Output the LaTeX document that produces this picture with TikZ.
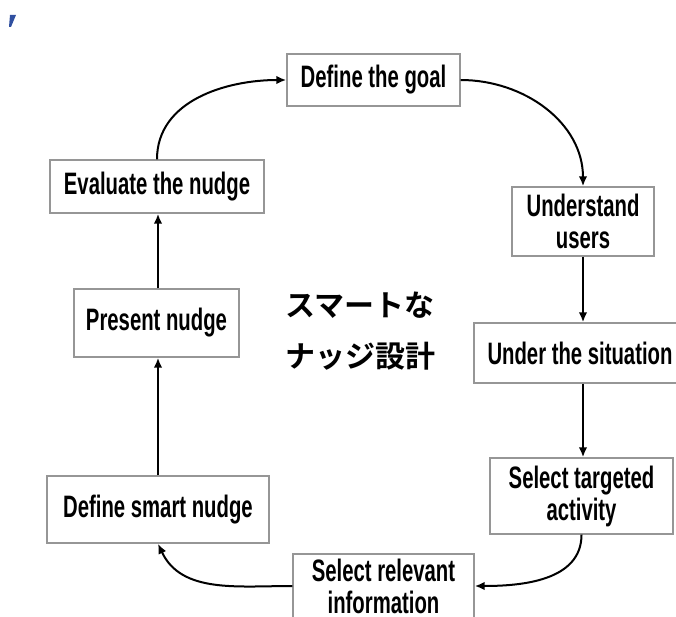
\documentclass[tikz,border=0pt]{standalone}
\usepackage{fontspec}
\usetikzlibrary{arrows.meta}
\newfontfamily\boxfont{Liberation Sans Bold}[FakeStretch=0.655]
\newfontfamily\cjkfont{Noto Sans CJK JP Bold}
\definecolor{boxgray}{RGB}{150,150,150}
\definecolor{markblue}{RGB}{48,80,160}
\tikzset{
  stepbox/.style={draw=boxgray, line width=1.4pt, fill=white, inner sep=0pt,
    align=center, font=\boxfont\fontsize{31}{32}\selectfont},
  flow/.style={line width=2pt, -{Latex[length=10pt,width=8.5pt]}},
}
\begin{document}
\begin{tikzpicture}[x=1pt, y=-1pt]
  \useasboundingbox (0,0) rectangle (676,617);
  % small mark in the corner
  \fill[markblue] (10,15) -- (16,15) -- (11,27) -- (9,27) -- cycle;

  % the steps of the cycle
  \node[stepbox, minimum width=173pt, minimum height=52pt] (goal) at (373.5,80) {Define the goal};
  \node[stepbox, minimum width=142pt, minimum height=69pt] (users) at (583,221.5) {Understand\\users};
  \node[stepbox, minimum width=212pt, minimum height=60pt] (situation) at (580,353) {Under the situation};
  \node[stepbox, minimum width=183pt, minimum height=76pt] (activity) at (581.5,496) {Select targeted\\activity};
  \node[stepbox, minimum width=181pt, minimum height=64pt] (info) at (383.5,586) {Select relevant\\information};
  \node[stepbox, minimum width=222pt, minimum height=67pt] (smart) at (158,509.5) {Define smart nudge};
  \node[stepbox, minimum width=165pt, minimum height=68pt] (present) at (156.5,323) {Present nudge};
  \node[stepbox, minimum width=214pt, minimum height=53pt] (evaluate) at (157,186.5) {Evaluate the nudge};

  % title in the middle
  \node[align=left, inner sep=0pt, font=\cjkfont\fontsize{30}{51}\selectfont] (title) at (360,331) {スマートな\\ナッジ設計};

  % connectors
  \draw[flow] (evaluate.north) to[out=90, in=180] (goal.west);
  \draw[flow] (goal.east) to[out=0, in=90] (users.north);
  \draw[flow] (users.south) -- (users.south |- situation.north);
  \draw[flow] (users.south |- situation.south) -- (users.south |- activity.north);
  \draw[flow] (activity.south) to[out=-90, in=0] (info.east);
  \draw[flow] (info.west) to[out=180, in=-65] (smart.south);
  \draw[flow] (smart.north) -- (smart.north |- present.south);
  \draw[flow] (smart.north |- present.north) -- (smart.north |- evaluate.south);
\end{tikzpicture}
\end{document}
